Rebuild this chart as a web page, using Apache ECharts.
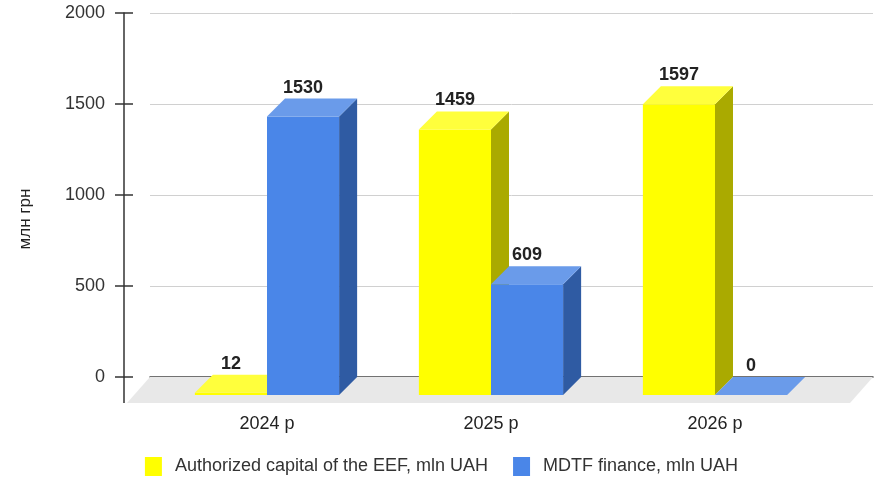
<!DOCTYPE html>
<html>
<head>
<meta charset="utf-8">
<script src="https://cdn.jsdelivr.net/npm/echarts@6/dist/echarts.min.js"></script>
<style>
html,body{margin:0;padding:0;background:#fff;}
#chart{width:883px;height:477px;}
</style>
</head>
<body>
<div id="chart"></div>
<script>
const categories = ['2024 р', '2025 р', '2026 р'];
const eefCapital = [12, 1459, 1597];
const mdtfFinance = [1530, 609, 0];
const yTicks = [0, 500, 1000, 1500, 2000];
const seriesNames = ['Authorized capital of the EEF, mln UAH', 'MDTF finance, mln UAH'];
const yAxisName = 'млн грн';

const FONT = '"Liberation Sans", Arial, sans-serif';
const DEPTH = 18;

function barRenderer(side, front, topC, sideC) {
  return function (params, api) {
    const i = api.value(0), v = api.value(1);
    const base = api.coord([i, 0]);
    const top = api.coord([i, v]);
    const band = api.size([1, 0])[0];
    const w = band * 0.322;
    const x0 = side < 0 ? base[0] - w : base[0];
    const x1 = x0 + w;
    const yb = base[1], yt = top[1];
    const D = DEPTH;
    const children = [];
    if (yb - yt > 0.5) {
      children.push({type: 'polygon', shape: {points: [[x0, yt], [x1, yt], [x1, yb], [x0, yb]]}, style: {fill: front}});
      children.push({type: 'polygon', shape: {points: [[x1, yt], [x1 + D, yt - D], [x1 + D, yb - D], [x1, yb]]}, style: {fill: sideC}});
    }
    children.push({type: 'polygon', shape: {points: [[x0, yt], [x1, yt], [x1 + D, yt - D], [x0 + D, yt - D]]}, style: {fill: topC}});
    children.push({type: 'text', style: {text: String(v), x: (x0 + x1) / 2, y: yt - D - 2, align: 'center', verticalAlign: 'bottom', fill: '#222', font: 'bold 18px ' + FONT}});
    return {type: 'group', children: children};
  };
}

function floorRenderer(params, api) {
  const cs = params.coordSys;
  const yb = cs.y + cs.height;
  const axisX = cs.x - 26;
  const children = [
    {type: 'polygon', shape: {points: [[cs.x, yb], [cs.x + cs.width, yb], [cs.x + cs.width - 23, yb + 26], [cs.x - 23, yb + 26]]}, style: {fill: '#e8e8e8'}},
    {type: 'line', shape: {x1: axisX, y1: yb, x2: axisX, y2: yb + 26}, style: {stroke: '#333', lineWidth: 1.5}}
  ];
  yTicks.forEach(function (t) {
    const y = api.coord([0, t])[1];
    children.push({type: 'line', shape: {x1: axisX, y1: y, x2: axisX + 9, y2: y}, style: {stroke: '#333', lineWidth: 1.5}});
  });
  return {type: 'group', children: children};
}

const chart = echarts.init(document.getElementById('chart'));
chart.setOption({
  animation: false,
  backgroundColor: '#fff',
  textStyle: {fontFamily: FONT},
  grid: [
    {left: 150, right: 10, top: 13, bottom: 100},
    {left: 155, right: 56, top: 31, bottom: 82}
  ],
  legend: {
    data: seriesNames,
    top: 452,
    left: 'center',
    icon: 'rect',
    itemWidth: 17,
    itemHeight: 19,
    itemGap: 25,
    textStyle: {fontSize: 18, color: '#333', fontFamily: FONT, padding: [0, 0, 0, 8]}
  },
  xAxis: [
    {gridIndex: 0, type: 'value', min: 0, max: 1, axisLabel: {show: false}, axisTick: {show: false}, splitLine: {show: false},
     axisLine: {show: true, onZero: false, lineStyle: {color: '#444', width: 1.5}}},
    {gridIndex: 1, type: 'category', data: categories, axisLine: {show: false}, axisTick: {show: false},
     axisLabel: {margin: 20, fontSize: 18, color: '#222', fontFamily: FONT}}
  ],
  yAxis: [
    {gridIndex: 0, type: 'value', position: 'left', min: yTicks[0], max: yTicks[yTicks.length - 1], interval: 500, offset: 26,
     name: yAxisName, nameLocation: 'middle', nameGap: 90, nameRotate: 90,
     nameTextStyle: {fontSize: 17, color: '#222', fontFamily: FONT, padding: [0, 48, 0, 0]},
     axisLine: {show: true, onZero: false, lineStyle: {color: '#333', width: 1.5}},
     axisTick: {show: true, length: 9, lineStyle: {color: '#333', width: 1.5}},
     axisLabel: {margin: 19, fontSize: 18, color: '#333', fontFamily: FONT, formatter: function (v) { return String(v); }},
     splitLine: {show: true, lineStyle: {color: '#d0d0d0', width: 1}}},
    {gridIndex: 1, type: 'value', min: yTicks[0], max: yTicks[yTicks.length - 1], interval: 500, show: false}
  ],
  series: [
    {type: 'custom', name: 'floor', xAxisIndex: 0, yAxisIndex: 0, z: 1, silent: true, clip: false,
     renderItem: floorRenderer, data: [[0, 0]]},
    {type: 'custom', name: seriesNames[0], xAxisIndex: 1, yAxisIndex: 1, z: 3,
     itemStyle: {color: '#ffff00'},
     renderItem: barRenderer(-1, '#ffff00', '#ffff3c', '#aaaa00'),
     data: categories.map((c, i) => [i, eefCapital[i]])},
    {type: 'custom', name: seriesNames[1], xAxisIndex: 1, yAxisIndex: 1, z: 4,
     itemStyle: {color: '#4a86e8'},
     renderItem: barRenderer(1, '#4a86e8', '#6a9bea', '#2f5ba3'),
     data: categories.map((c, i) => [i, mdtfFinance[i]])}
  ]
});
</script>
</body>
</html>
